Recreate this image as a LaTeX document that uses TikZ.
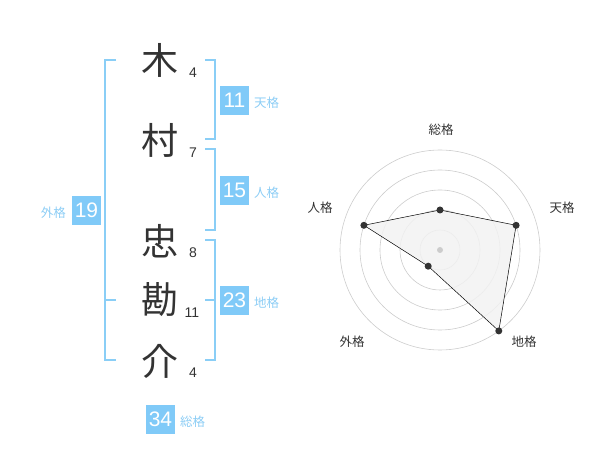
\documentclass[tikz,border=0pt]{standalone}
\usepackage{fontspec}
\setmainfont{Liberation Sans}
\newfontfamily\jp{Noto Sans CJK JP}
\definecolor{boxblue}{RGB}{128,202,248}
\definecolor{lineblue}{RGB}{138,206,246}
\definecolor{lblblue}{RGB}{140,205,245}
\definecolor{txt}{RGB}{51,51,51}
\definecolor{ringgray}{RGB}{204,204,204}
\definecolor{fillgray}{RGB}{242,242,242}
\begin{document}
\begin{tikzpicture}[x=1pt,y=-1pt,
  kanji/.style={font=\jp\fontsize{37}{37}\selectfont, text=txt, inner sep=0pt},
  strokes/.style={font=\fontsize{14}{14}\selectfont, text=txt, inner sep=0pt},
  numbox/.style={fill=boxblue, text=white, minimum width=29pt, minimum height=29pt, inner sep=0pt, font=\fontsize{21}{21}\selectfont},
  kaku/.style={font=\jp\fontsize{12.5}{12.5}\selectfont, text=lblblue, inner sep=0pt},
  brk/.style={draw=lineblue, line width=1.5pt},
  ring/.style={draw=ringgray, line width=0.6pt},
  rlabel/.style={font=\jp\fontsize{12.5}{12.5}\selectfont, text=txt, inner sep=0pt},
  dot/.style={circle, fill=txt, minimum size=7pt, inner sep=0pt}]
\useasboundingbox (0,0) rectangle (600,470);
% characters
\node[kanji] (c1) at (160,60) {木};
\node[kanji] (c2) at (160,140) {村};
\node[kanji] (c3) at (160,241) {忠};
\node[kanji] (c4) at (160,300) {勘};
\node[kanji] (c5) at (160,361) {介};
\node[strokes] (s1) at (193,73) {4};
\node[strokes] (s2) at (193,153) {7};
\node[strokes] (s3) at (193,253) {8};
\node[strokes] (s4) at (192,313) {11};
\node[strokes] (s5) at (193,373) {4};
% brackets
\coordinate (g1) at (116,60); \coordinate (g2) at (105,60);
\coordinate (g3) at (105,360); \coordinate (g4) at (116,360);
\coordinate (g5) at (105,300); \coordinate (g6) at (116,300);
\draw[brk] (g1) -- (g2) -- (g3) -- (g4);
\draw[brk] (g5) -- (g6);
\coordinate (t1) at (205,60); \coordinate (t2) at (215,60);
\coordinate (t3) at (215,139); \coordinate (t4) at (205,139);
\draw[brk] (t1) -- (t2) -- (t3) -- (t4);
\coordinate (j1) at (205,149); \coordinate (j2) at (215,149);
\coordinate (j3) at (215,230); \coordinate (j4) at (205,230);
\draw[brk] (j1) -- (j2) -- (j3) -- (j4);
\coordinate (k1) at (205,240); \coordinate (k2) at (215,240);
\coordinate (k3) at (215,360); \coordinate (k4) at (205,360);
\coordinate (k5) at (205,300); \coordinate (k6) at (215,300);
\draw[brk] (k1) -- (k2) -- (k3) -- (k4);
\draw[brk] (k5) -- (k6);
% boxes
\node[numbox] (b11) at (234.5,100.5) {11};
\node[kaku, anchor=west] (l11) at (254,103) {天格};
\node[numbox] (b15) at (234.5,190.5) {15};
\node[kaku, anchor=west] (l15) at (254,193) {人格};
\node[numbox] (b19) at (86.5,210.5) {19};
\node[kaku, anchor=east] (l19) at (66,213) {外格};
\node[numbox] (b23) at (234.5,300.5) {23};
\node[kaku, anchor=west] (l23) at (254,303) {地格};
\node[numbox] (b34) at (160.5,419) {34};
\node[kaku, anchor=west] (l34) at (180,422) {総格};
% radar
\coordinate (ctr) at (440,250);
\foreach \r in {20,40,60,80,100} \draw[ring] (ctr) circle[radius=\r];
\coordinate (pS) at (440,210);
\coordinate (pT) at (516.1,225.3);
\coordinate (pC) at (498.8,330.9);
\coordinate (pG) at (428.2,266.2);
\coordinate (pJ) at (363.9,225.3);
\fill[fillgray, opacity=0.85] (pS) -- (pT) -- (pC) -- (pG) -- (pJ) -- cycle;
\draw[black, line width=0.5pt] (pS) -- (pT) -- (pC) -- (pG) -- (pJ) -- cycle;
\node[circle, fill=ringgray, minimum size=6pt, inner sep=0pt] (cd) at (ctr) {};
\node[dot] (dS) at (pS) {};
\node[dot] (dT) at (pT) {};
\node[dot] (dC) at (pC) {};
\node[dot] (dG) at (pG) {};
\node[dot] (dJ) at (pJ) {};
\node[rlabel] (rS) at (441,130) {総格};
\node[rlabel] (rT) at (562,208) {天格};
\node[rlabel] (rJ) at (320,208) {人格};
\node[rlabel] (rG) at (352,342) {外格};
\node[rlabel] (rC) at (524,342) {地格};
\end{tikzpicture}
\end{document}
